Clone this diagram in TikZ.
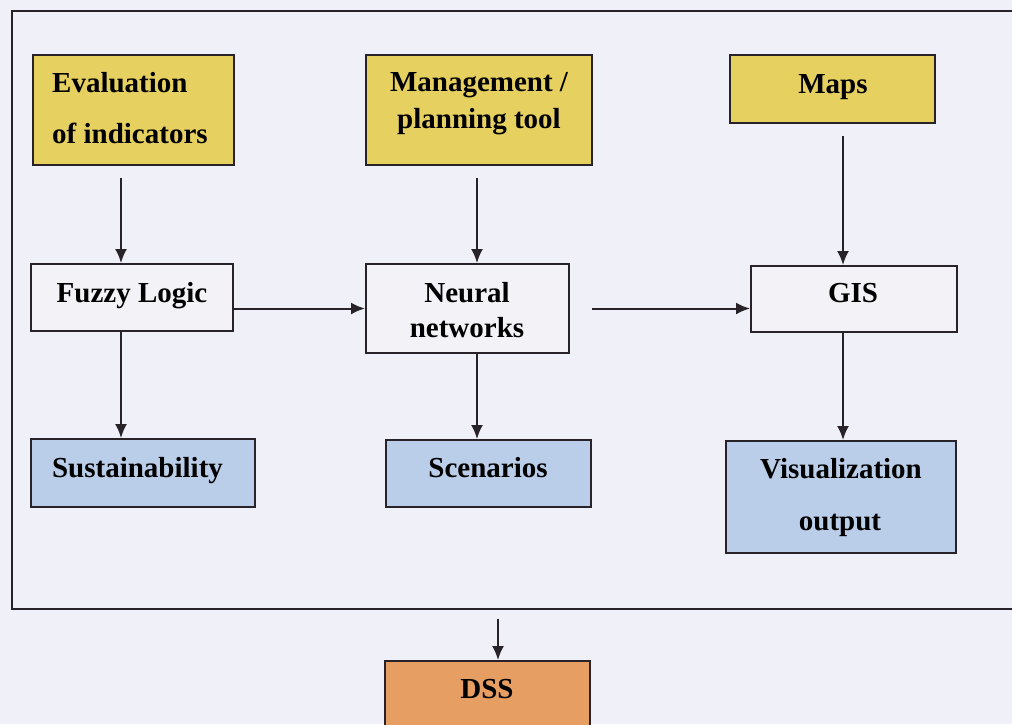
\documentclass[tikz,border=0pt]{standalone}
\usepackage{fontspec}
\setmainfont{Liberation Serif}
\usetikzlibrary{arrows.meta}
\definecolor{bgc}{RGB}{240,240,248}
\definecolor{ylw}{RGB}{230,208,96}
\definecolor{blu}{RGB}{186,206,233}
\definecolor{org}{RGB}{230,158,98}
\definecolor{gry}{RGB}{243,242,247}
\definecolor{edge}{RGB}{40,35,40}
\tikzset{
  box/.style={draw=edge, line width=2pt, minimum width=#1, inner sep=0pt},
  lbl/.style={anchor=base, text=black, font=\bfseries\fontsize{29}{34}\selectfont, inner sep=0pt},
  arr/.style={draw=edge, line width=2pt, -{Latex[length=14pt,width=12pt]}}
}
\begin{document}
\begin{tikzpicture}[x=1pt,y=-1pt]
\useasboundingbox (0,0) rectangle (1012,724);
\clip (0,0) rectangle (1012,724);
\fill[bgc] (0,0) rectangle (1012,724);
% outer frame
\node[draw=edge, line width=2pt, minimum width=1019pt, minimum height=598pt, inner sep=0pt, anchor=north west] (frame) at (11,10) {};
% boxes
\node[box=201pt, minimum height=110pt, fill=ylw] (eval) at (133.5,110) {};
\node[box=226pt, minimum height=110pt, fill=ylw] (mgmt) at (479,110) {};
\node[box=205pt, minimum height=68pt, fill=ylw] (maps) at (832.5,89) {};
\node[box=202pt, minimum height=67pt, fill=gry] (fuzzy) at (132,297.5) {};
\node[box=203pt, minimum height=89pt, fill=gry] (neural) at (467.5,308.5) {};
\node[box=206pt, minimum height=66pt, fill=gry] (gis) at (854,299) {};
\node[box=224pt, minimum height=68pt, fill=blu] (sust) at (143,473) {};
\node[box=205pt, minimum height=67pt, fill=blu] (scen) at (488.5,473.5) {};
\node[box=230pt, minimum height=112pt, fill=blu] (vis) at (841,497) {};
\node[box=205pt, minimum height=80pt, fill=org] (dss) at (487.5,701) {};
% labels
\node[lbl, anchor=base west] (evalA) at (52,92) {Evaluation};
\node[lbl, anchor=base west] (evalB) at (52,143) {of indicators};
\node[lbl] (mgmtA) at (479,91) {Management /};
\node[lbl] (mgmtB) at (479,128) {planning tool};
\node[lbl] (mapsA) at (833,93) {Maps};
\node[lbl] (fuzzyA) at (132,302) {Fuzzy Logic};
\node[lbl] (neuralA) at (467,302) {Neural};
\node[lbl] (neuralB) at (467,337) {networks};
\node[lbl] (gisA) at (853,302) {GIS};
\node[lbl] (sustA) at (137.5,477) {Sustainability};
\node[lbl] (scenA) at (488,477) {Scenarios};
\node[lbl] (visA) at (841,478) {Visualization};
\node[lbl] (visB) at (840,530) {output};
\node[lbl] (dssA) at (487,698) {DSS};
% x positions of vertical connectors
\coordinate (xa) at (121,0);
\coordinate (xb) at (477,0);
\coordinate (xc) at (843,0);
\coordinate (xd) at (498,0);
% connectors
\draw[arr, shorten <=12pt] (eval.south -| xa) -- (fuzzy.north -| xa);
\draw[arr, shorten <=12pt] (mgmt.south -| xb) -- (neural.north -| xb);
\draw[arr, shorten <=12pt] (maps.south -| xc) -- (gis.north -| xc);
\draw[arr] (fuzzy.east |- neural.west) -- (neural.west);
\draw[arr, shorten <=22pt] (neural.east) -- (gis.west |- neural.east);
\draw[arr] (fuzzy.south -| xa) -- (sust.north -| xa);
\draw[arr] (neural.south -| xb) -- (scen.north -| xb);
\draw[arr] (gis.south -| xc) -- (vis.north -| xc);
\draw[arr, shorten <=9pt] (frame.south -| xd) -- (dss.north -| xd);
\end{tikzpicture}
\end{document}
